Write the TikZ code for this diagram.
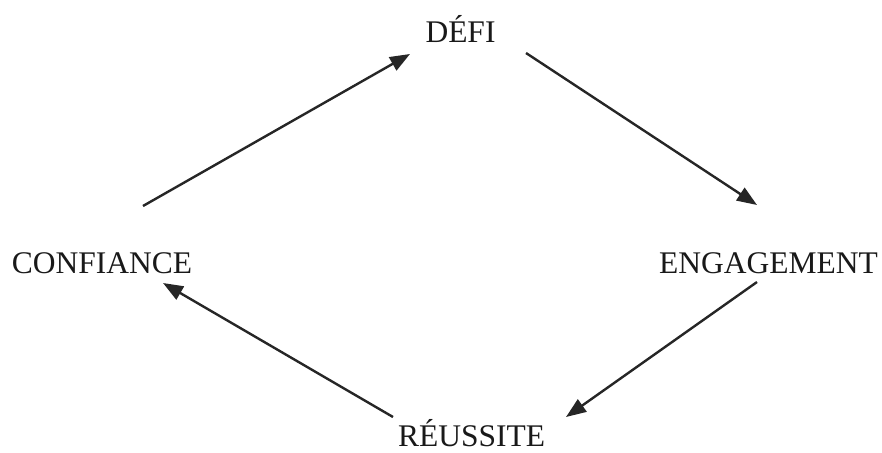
\documentclass[tikz,border=0pt]{standalone}
\usepackage{fontspec}
\setmainfont{Liberation Serif}
\usetikzlibrary{arrows.meta}
\begin{document}
\begin{tikzpicture}[x=1pt,y=-1pt,
  lbl/.style={anchor=base,inner sep=0pt,font=\fontsize{31.5}{36}\selectfont,text=black!90},
  conn/.style={line width=2.4pt,draw=black!85,-{Triangle[length=20pt,width=15pt]}}]
\useasboundingbox (0,0) rectangle (882,452);
\node[lbl] (defi) at (460.5,42) {DÉFI};
\node[lbl] (conf) at (102,273) {CONFIANCE};
\node[lbl] (eng) at (768.5,273) {ENGAGEMENT};
\node[lbl] (reu) at (471.5,446) {RÉUSSITE};
\coordinate (c1s) at (143,206);
\coordinate (c1e) at (410,54);
\coordinate (c2s) at (526,53);
\coordinate (c2e) at (757,205);
\coordinate (c3s) at (757,282);
\coordinate (c3e) at (566,417);
\coordinate (c4s) at (393,417);
\coordinate (c4e) at (163,283);
\draw[conn] (c1s) -- (c1e);
\draw[conn] (c2s) -- (c2e);
\draw[conn] (c3s) -- (c3e);
\draw[conn] (c4s) -- (c4e);
\end{tikzpicture}
\end{document}
